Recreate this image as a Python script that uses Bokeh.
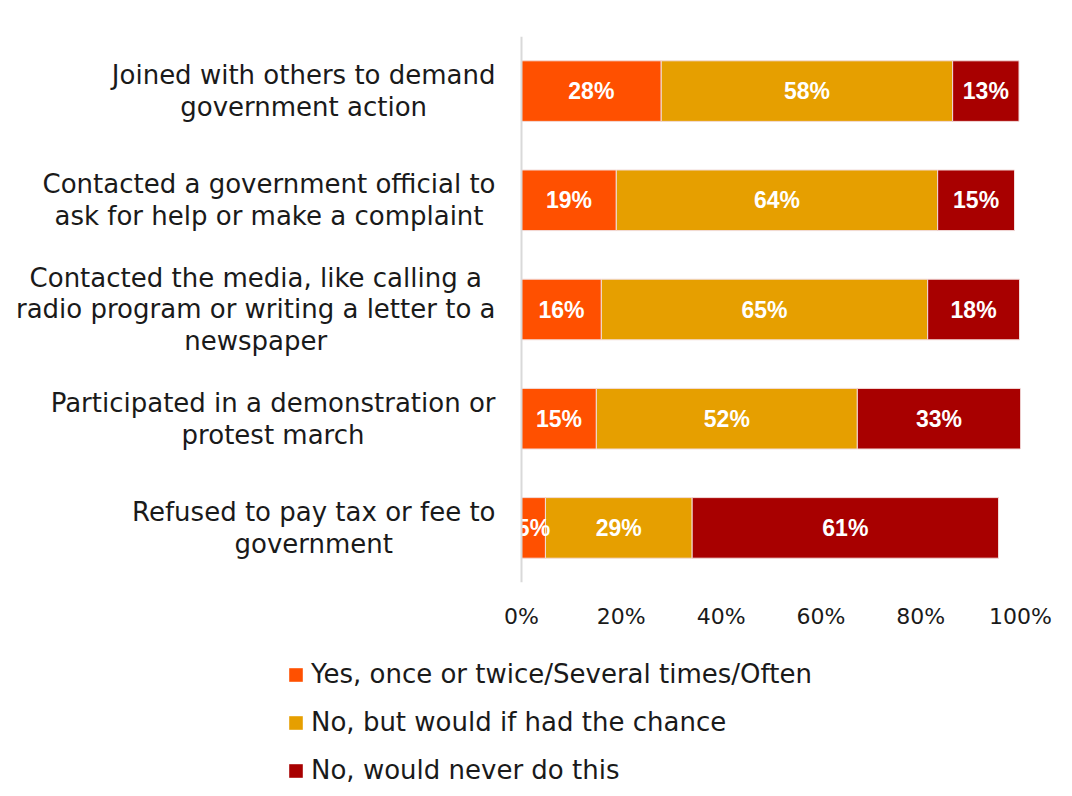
from bokeh.plotting import figure
from bokeh.layouts import column
from bokeh.models import (ColumnDataSource, Legend, LegendItem, FixedTicker, LabelSet, Span,
                          CustomJSTickFormatter, Range1d)
from bokeh.core.properties import value
from bokeh.embed import file_html
from bokeh.resources import INLINE

categories = [
    "Joined with others to demand\ngovernment action",
    "Contacted a government official to\nask for help or make a complaint",
    "Contacted the media, like calling a\nradio program or writing a letter to a\nnewspaper",
    "Participated in a demonstration or\nprotest march",
    "Refused to pay tax or fee to\ngovernment",
]
series_names = [
    "Yes, once or twice/Several times/Often",
    "No, but would if had the chance",
    "No, would never do this",
]
yes_vals = [28.0, 19.0, 16.0, 15.0, 4.8]
would_vals = [58.4, 64.4, 65.4, 52.3, 29.4]
never_vals = [13.3, 15.4, 18.4, 32.7, 61.4]
x_ticks = [0, 20, 40, 60, 80, 100]
colors = ["#FF5000", "#E69F00", "#A80000"]

FONT = "DejaVu Sans"
LABEL_FONT = "Liberation Sans"
PX_PER_UNIT = 4.99          # plot scale: 100% spans 499 px
FRAME_RIGHT = 1020          # px from the figure's left edge
x_start = -(FRAME_RIGHT - 100 * PX_PER_UNIT) / PX_PER_UNIT

p = figure(width=1056, height=632, y_range=list(reversed(categories)), x_range=(x_start, 100),
           output_backend="svg", toolbar_location=None,
           min_border_left=0, min_border_right=1056 - FRAME_RIGHT, min_border_top=36,
           min_border_bottom=50)
p.outline_line_color = None
p.xgrid.grid_line_color = None
p.ygrid.grid_line_color = None
p.yaxis.visible = False

series = [yes_vals, would_vals, never_vals]
left = [0.0] * len(categories)
for name, vals, col in zip(series_names, series, colors):
    right = [l + v for l, v in zip(left, vals)]
    mid = [(l + r) / 2 for l, r in zip(left, right)]
    src = ColumnDataSource(dict(cat=categories, left=left, right=right, mid=mid,
                                lab=[f"{round(v)}%" for v in vals]))
    p.hbar(y="cat", left="left", right="right", height=0.555, source=src,
           fill_color=col, line_color="#F2DCDB", line_width=1)
    ls = LabelSet(x="mid", y="cat", text="lab", source=src, text_align="center",
                  text_baseline="middle", text_color="white", text_font=value(LABEL_FONT),
                  text_font_style="bold", text_font_size="23px")
    p.add_layout(ls)
    left = right

# category axis line and labels
p.add_layout(Span(location=0, dimension="height", line_color="#D9D9D9", line_width=2))
cat_src = ColumnDataSource(dict(cat=categories, x=[-26 / PX_PER_UNIT] * len(categories)))
p.text(x="x", y="cat", text="cat", source=cat_src, anchor="center_right", text_align="center",
       text_baseline="middle", text_font=value(FONT), text_font_size="26px",
       text_color="#1a1a1a", text_line_height=1.06)

p.xaxis.ticker = FixedTicker(ticks=x_ticks)
p.xaxis.formatter = CustomJSTickFormatter(code="return tick + '%';")
p.xaxis.axis_line_color = None
p.xaxis.major_tick_line_color = None
p.xaxis.minor_tick_line_color = None
p.xaxis.major_label_standoff = 15
p.xaxis.major_label_text_font = FONT
p.xaxis.major_label_text_font_size = "22px"
p.xaxis.major_label_text_color = "#1a1a1a"

# legend strip
q = figure(width=1056, height=154, output_backend="svg", toolbar_location=None, min_border=0,
           x_range=Range1d(0, 1), y_range=Range1d(0, 1))
q.axis.visible = False
q.grid.visible = False
q.outline_line_color = None
q.border_fill_color = "white"
q.background_fill_color = "white"
nan = float("nan")
leg_renderers = [q.hbar(y=[nan], left=[nan], right=[nan], height=1, fill_color=c, line_color=None)
                 for c in colors]
legend = Legend(items=[LegendItem(label=n, renderers=[r]) for n, r in zip(series_names, leg_renderers)],
                location=(287, 1), orientation="vertical",
                label_text_font=FONT, label_text_font_size="26px", label_text_color="#1a1a1a",
                glyph_width=17, glyph_height=17, spacing=18, padding=0, label_standoff=7,
                border_line_color=None, background_fill_alpha=0)
q.add_layout(legend, "center")

layout = column(p, q, spacing=0)
open("out.html", "w").write(file_html(layout, INLINE))
